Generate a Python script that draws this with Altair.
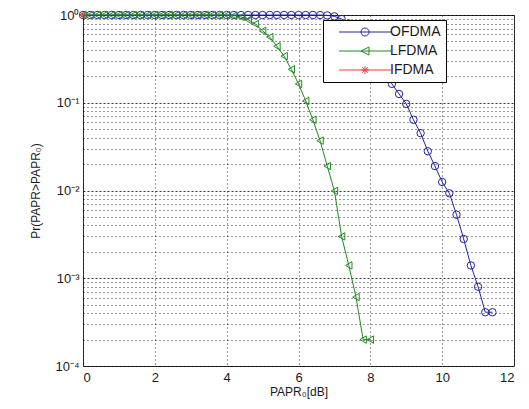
import altair as alt
import pandas as pd

# ---- data ----
series_names = ["OFDMA", "LFDMA", "IFDMA"]
series_colors = ["#2323a0", "#1f8a1f", "#e8403a"]

papr_ofdma = [0.0, 0.2, 0.4, 0.6, 0.8, 1.0, 1.2, 1.4, 1.6, 1.8, 2.0, 2.2, 2.4, 2.6, 2.8,
              3.0, 3.2, 3.4, 3.6, 3.8, 4.0, 4.2, 4.4, 4.6, 4.8, 5.0, 5.2, 5.4, 5.6, 5.8,
              6.0, 6.2, 6.4, 6.6, 6.8, 7.0, 7.2, 7.4, 7.6, 7.8, 8.0, 8.2, 8.4, 8.6, 8.8,
              9.0, 9.2, 9.4, 9.6, 9.8, 10.0, 10.2, 10.4, 10.6, 10.8, 11.0, 11.2, 11.4]
ccdf_ofdma = [1.0, 1.0, 1.0, 1.0, 1.0, 1.0, 1.0, 1.0, 1.0, 1.0, 1.0, 1.0, 1.0, 1.0, 1.0,
              1.0, 1.0, 1.0, 1.0, 1.0, 1.0, 1.0, 1.0, 1.0, 1.0, 1.0, 1.0, 1.0, 1.0, 1.0,
              1.0, 1.0, 1.0, 0.998, 0.99, 0.965, 0.90, 0.80, 0.68, 0.55, 0.43, 0.32, 0.23, 0.164, 0.126,
              0.097, 0.064, 0.045, 0.028, 0.019, 0.0125, 0.0093, 0.0053, 0.0028, 0.0014, 0.0008, 0.00041, 0.00041]

papr_lfdma = [0.0, 0.2, 0.4, 0.6, 0.8, 1.0, 1.2, 1.4, 1.6, 1.8, 2.0, 2.2, 2.4, 2.6, 2.8,
              3.0, 3.2, 3.4, 3.6, 3.8, 4.0, 4.2, 4.4, 4.6, 4.8, 5.0, 5.2, 5.4, 5.6, 5.8,
              6.0, 6.2, 6.4, 6.6, 6.8, 7.0, 7.2, 7.4, 7.6, 7.8, 8.0]
ccdf_lfdma = [1.0, 1.0, 1.0, 1.0, 1.0, 1.0, 1.0, 1.0, 1.0, 1.0, 1.0, 1.0, 1.0, 1.0, 1.0,
              1.0, 1.0, 1.0, 1.0, 1.0, 0.997, 0.985, 0.95, 0.88, 0.79, 0.66, 0.56, 0.44, 0.34, 0.24,
              0.164, 0.105, 0.064, 0.037, 0.019, 0.0099, 0.0030, 0.0014, 0.00061, 0.0002, 0.0002]

papr_ifdma = [0.0]
ccdf_ifdma = [1.0]

x_tick_values = [0, 2, 4, 6, 8, 10, 12]
y_decades = [0.0001, 0.001, 0.01, 0.1, 1.0]
y_mantissas = [1, 2, 3, 4, 5, 6, 7, 8, 9]
y_tick_values = [m * d for d in y_decades[:-1] for m in y_mantissas] + [1.0]

# ---- table ----
rows = []
for name, xs, ys in [("OFDMA", papr_ofdma, ccdf_ofdma),
                     ("LFDMA", papr_lfdma, ccdf_lfdma),
                     ("IFDMA", papr_ifdma, ccdf_ifdma)]:
    for i, (xv, yv) in enumerate(zip(xs, ys)):
        rows.append({"series": name, "papr": xv, "ccdf": yv, "idx": i})
df = pd.DataFrame(rows)

FONT = "Liberation Sans"
TXT = "#1a1a1a"

star_path = "M-1,0H1M0,-1V1M-0.7,-0.7L0.7,0.7M-0.7,0.7L0.7,-0.7"
marker_shapes = ["circle", "triangle-left", star_path]
legend_shapes = [
    "M-6.5,0H6.5M1,0A1,1 0 1,1 -1,0A1,1 0 1,1 1,0",
    "M-6.5,0H6.5M-1,0L1,-1L1,1Z",
    "M-6.5,0H6.5M-1,0H1M0,-1V1M-0.7,-0.7L0.7,0.7M-0.7,0.7L0.7,-0.7",
]

label_expr = ("datum.value == 1 ? '10\u2070' : datum.value == 0.1 ? '10\u207b\u00b9' : "
              "datum.value == 0.01 ? '10\u207b\u00b2' : datum.value == 0.001 ? '10\u207b\u00b3' : "
              "datum.value == 0.0001 ? '10\u207b\u2074' : ''")

x_enc = alt.X("papr:Q",
              scale=alt.Scale(domain=[0, 12], nice=False),
              axis=alt.Axis(values=x_tick_values, title="PAPR\u2080[dB]",
                            grid=True, gridColor="#000", gridDash=[1, 3], gridOpacity=0.8,
                            ticks=False, domain=False,
                            labelFont=FONT, labelFontSize=13, labelColor=TXT, labelPadding=5,
                            titleFont=FONT, titleFontSize=12, titleFontWeight="normal",
                            titleColor=TXT, titlePadding=2))
y_enc = alt.Y("ccdf:Q",
              scale=alt.Scale(type="log", domain=[0.0001, 1], nice=False),
              axis=alt.Axis(values=y_tick_values, labelExpr=label_expr, labelOverlap=False,
                            title="Pr(PAPR>PAPR\u2080)",
                            grid=True, gridColor="#000", gridOpacity=0.8,
                            gridDash={"condition": {"test": "indexof([1,0.1,0.01,0.001,0.0001], datum.value) >= 0",
                                                    "value": [2, 2]},
                                      "value": [1, 3]},
                            ticks=False, domain=False,
                            labelFont=FONT, labelFontSize=13, labelColor=TXT, labelPadding=4,
                            titleFont=FONT, titleFontSize=12, titleFontWeight="normal",
                            titleColor=TXT, titlePadding=12))

color_scale = alt.Scale(domain=series_names, range=series_colors)

lines = alt.Chart(df).mark_line(strokeWidth=1, clip=False).encode(
    x=x_enc, y=y_enc,
    color=alt.Color("series:N", scale=color_scale, legend=None),
    order="idx:Q",
)

points = alt.Chart(df).mark_point(filled=False, size=55, strokeWidth=1, opacity=1).encode(
    x=x_enc, y=y_enc,
    color=alt.Color("series:N", scale=color_scale, legend=None),
    shape=alt.Shape("series:N", scale=alt.Scale(domain=series_names, range=marker_shapes), legend=None),
)

leg = alt.Legend(title=None, orient="none", legendX=240, legendY=5, direction="vertical",
                 fillColor="white", strokeColor="#000", padding=5, cornerRadius=0,
                 symbolSize=64, symbolStrokeWidth=1, symbolOffset=30, labelOffset=18,
                 labelFont=FONT, labelFontSize=14, labelColor=TXT, rowPadding=5)

legend_layer = alt.Chart(df).transform_filter("false").mark_point(
    filled=False, opacity=1, size=64
).encode(
    x=x_enc, y=y_enc,
    color=alt.Color("series:N", scale=color_scale, legend=leg),
    shape=alt.Shape("series:N", scale=alt.Scale(domain=series_names, range=legend_shapes), legend=leg),
)

chart = alt.layer(lines, points, legend_layer).resolve_scale(
    color="independent", shape="independent"
).properties(
    width=431, height=351,
    autosize=alt.AutoSizeParams(type="none"),
    padding={"left": 75, "top": 7, "right": 7, "bottom": 34},
    background="white",
).configure_view(stroke="#333", strokeWidth=1)

chart.save("out.html", embed_options={"renderer": "svg", "actions": False})
